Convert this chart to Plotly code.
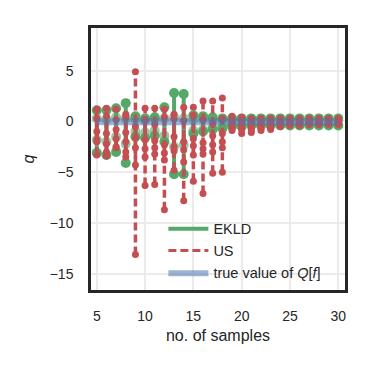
import plotly.graph_objects as go

# sample counts
n_samples = list(range(5, 31))

# US estimator: three runs per sample count (upper / lower ends of each interval)
us_a_hi = [1.2, 1.3, 1.2, 0.7, 4.9, 1.3, 1.3, 1.2, 0.7, 1.4, 1.4, 2.0, 2.0, 2.3,
           0.5, 0.4, 0.3, 0.3, 0.3, 0.3, 0.3, 0.3, 0.3, 0.3, 0.3, 0.3]
us_a_lo = [-3.3, -3.4, -2.6, -3.5, -13.1, -6.3, -6.2, -8.7, -4.8, -7.8, -5.9, -7.1, -5.1, -5.0,
           -0.9, -1.2, -1.1, -0.9, -0.8, -0.5, -0.4, -0.4, -0.3, -0.3, -0.3, -0.3]
us_b_hi = [0.3, 0.5, 0.2, 0.4, -0.5, 0.2, -0.3, 0.4, 0.3, 0.1, 0.6, 0.2, -0.2, 0.3,
           0.2, 0.1, 0.0, 0.1, 0.0, 0.1, 0.1, 0.1, 0.1, 0.0, 0.1, 0.1]
us_b_lo = [-2.0, -3.0, -2.5, -3.0, -4.3, -3.5, -3.2, -3.8, -2.9, -4.0, -3.3, -2.7, -3.0, -2.6,
           -0.5, -0.8, -0.9, -0.7, -0.6, -0.3, -0.2, -0.2, -0.2, -0.2, -0.2, -0.2]
us_c_hi = [-1.0, -1.2, -0.8, -1.1, -1.6, -1.8, -1.9, -2.3, -1.5, -2.0, -1.7, -2.1, -1.4, -1.2,
           -0.1, -0.3, -0.4, -0.3, -0.2, -0.1, 0.0, 0.0, 0.0, 0.0, 0.0, 0.0]
us_c_lo = [-1.8, -2.2, -1.7, -2.0, -2.6, -2.7, -2.6, -3.1, -2.5, -2.8, -2.4, -3.2, -2.3, -2.0,
           -0.4, -0.6, -0.7, -0.5, -0.4, -0.2, -0.1, -0.1, -0.1, -0.1, -0.1, -0.1]

# EKLD estimator: two runs per sample count
ek_a_hi = [1.1, 1.1, 1.3, 1.8, 0.5, 0.3, 0.4, 1.4, 2.8, 2.7, 0.6, 0.5, 0.4, 0.3,
           0.3, 0.3, 0.3, 0.3, 0.3, 0.3, 0.3, 0.3, 0.3, 0.3, 0.3, 0.3]
ek_a_lo = [-3.1, -3.3, -3.0, -4.1, -1.5, -1.6, -1.4, -2.0, -5.2, -5.2, -1.2, -1.0, -0.8, -0.7,
           -0.5, -0.5, -0.4, -0.4, -0.4, -0.4, -0.4, -0.4, -0.4, -0.4, -0.4, -0.4]
ek_b_hi = [0.3, 0.2, 0.4, 0.3, 0.2, 0.1, 0.2, 0.3, 0.4, 0.3, 0.2, 0.2, 0.1, 0.1,
           0.1, 0.1, 0.1, 0.1, 0.1, 0.1, 0.1, 0.1, 0.1, 0.1, 0.1, 0.1]
ek_b_lo = [-1.8, -2.0, -1.5, -2.2, -1.0, -1.1, -0.9, -1.4, -2.5, -2.3, -0.9, -0.8, -0.6, -0.5,
           -0.3, -0.3, -0.3, -0.3, -0.3, -0.3, -0.3, -0.3, -0.3, -0.3, -0.3, -0.3]

# true value of Q[f] and half-width of its band
true_q = -0.03
true_band = 0.35

GREEN = "#55a868"
RED = "#c44e52"
BLUE = "rgba(76,114,176,0.55)"


def segments(xs, lo, hi):
    sx, sy = [], []
    for x, a, b in zip(xs, lo, hi):
        sx += [x, x, None]
        sy += [a, b, None]
    return sx, sy


fig = go.Figure()

for lo, hi, op in [(ek_a_lo, ek_a_hi, 1.0), (ek_b_lo, ek_b_hi, 0.6)]:
    sx, sy = segments(n_samples, lo, hi)
    fig.add_trace(go.Scatter(x=sx, y=sy, mode="lines+markers", opacity=op,
                             line=dict(color=GREEN, width=4),
                             marker=dict(color=GREEN, size=10),
                             showlegend=False, hoverinfo="skip"))

for lo, hi in [(us_a_lo, us_a_hi), (us_b_lo, us_b_hi), (us_c_lo, us_c_hi)]:
    sx, sy = segments(n_samples, lo, hi)
    fig.add_trace(go.Scatter(x=sx, y=sy, mode="lines+markers",
                             line=dict(color=RED, width=3.5, dash="8px,4px"),
                             marker=dict(color=RED, size=7),
                             showlegend=False, hoverinfo="skip"))

# legend entries
fig.add_trace(go.Scatter(x=[None], y=[None], mode="lines", name="EKLD",
                         line=dict(color=GREEN, width=4)))
fig.add_trace(go.Scatter(x=[None], y=[None], mode="lines", name="US",
                         line=dict(color=RED, width=3, dash="8px,4px")))

bx = [n_samples[0], n_samples[-1], n_samples[-1], n_samples[0], n_samples[0]]
by = [true_q - true_band, true_q - true_band, true_q + true_band, true_q + true_band, true_q - true_band]
fig.add_trace(go.Scatter(x=bx, y=by, fill="toself", fillcolor=BLUE, mode="lines",
                         line=dict(width=0), name="true value of <i>Q</i>[<i>f</i>]"))

fig.update_layout(
    width=373, height=373,
    margin=dict(l=83, r=36, t=20, b=91),
    paper_bgcolor="white", plot_bgcolor="white",
    font=dict(family="Liberation Sans, Arial", size=13, color="#262626"),
    legend=dict(x=0.285, y=0.295, xanchor="left", yanchor="top",
                bgcolor="rgba(0,0,0,0)", font=dict(size=14.5),
                tracegroupgap=0, itemwidth=40),
)
fig.update_xaxes(range=[4.4, 30.7], tickvals=[5, 10, 15, 20, 25, 30],
                 showgrid=True, gridcolor="#ebebeb", gridwidth=1.5, zeroline=False,
                 showline=True, mirror=True, linecolor="#262626", linewidth=2.5,
                 ticks="", ticklabelstandoff=11, tickfont=dict(size=14),
                 title=dict(text="no. of samples", standoff=8))
fig.update_yaxes(range=[-16.6, 9.2], tickvals=[-15, -10, -5, 0, 5],
                 showgrid=True, gridcolor="#ebebeb", gridwidth=1.5, zeroline=False,
                 showline=True, mirror=True, linecolor="#262626", linewidth=2.5,
                 ticks="", ticklabelstandoff=12, tickfont=dict(size=14),
                 title=dict(text="<i>q</i>", standoff=12))

fig.write_html("out.html")
